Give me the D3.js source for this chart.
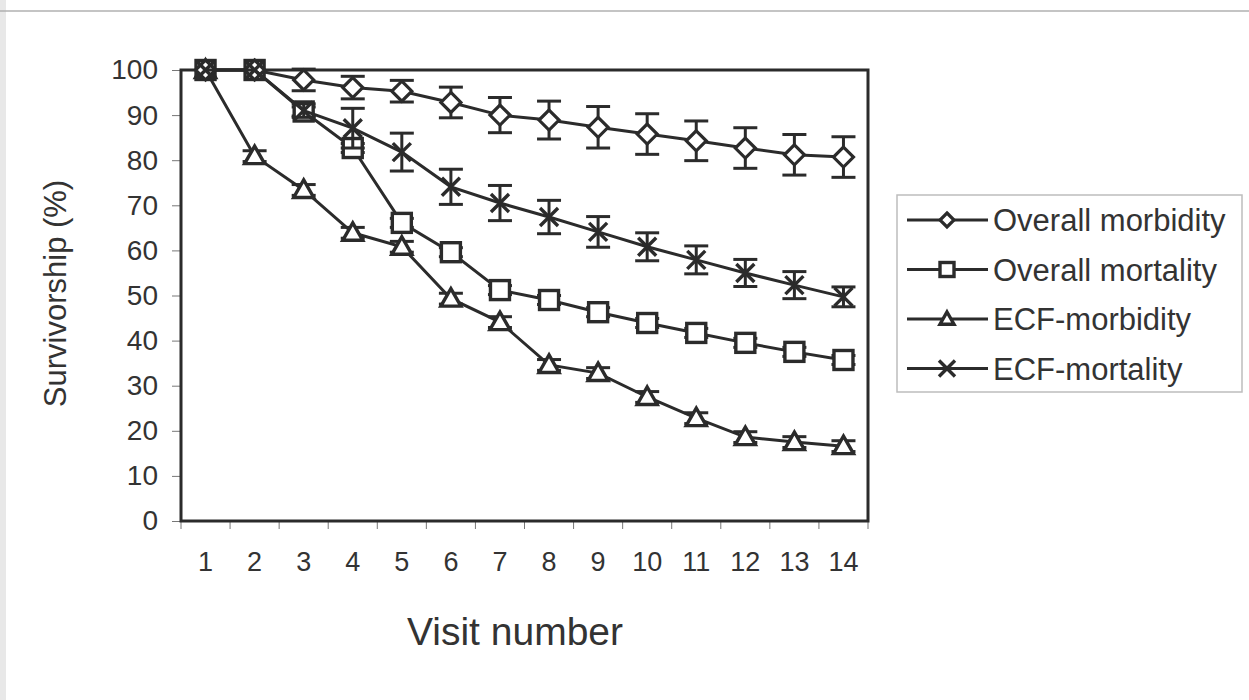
<!DOCTYPE html>
<html>
<head>
<meta charset="utf-8">
<script src="https://cdn.jsdelivr.net/npm/d3@7"></script>
<style>
  body { margin: 0; background: #fff; }
  svg { font-family: "Liberation Sans", Arial, sans-serif; }
</style>
</head>
<body>
<script>
// Chart data
const visits = ["1","2","3","4","5","6","7","8","9","10","11","12","13","14"];
const yTicks = [0,10,20,30,40,50,60,70,80,90,100];
const seriesNames = ["Overall morbidity","Overall mortality","ECF-morbidity","ECF-mortality"];
const seriesSymbols = ["diamond","square","triangle","cross"];

const overallMorbidity    = [100,100,97.8,96.1,95.3,92.8,90.0,88.9,87.3,85.8,84.3,82.7,81.2,80.7];
const overallMorbidityErr = [0,0,2.4,2.5,2.4,3.4,3.9,4.2,4.6,4.5,4.4,4.5,4.5,4.5];
const overallMortality    = [100,100,90.8,82.7,66.1,59.6,51.2,49.0,46.3,43.9,41.7,39.5,37.5,35.7];
const overallMortalityErr = [0,0,1,1,1,1,1,1,1,1,1,1,1,1];
const ecfMorbidity        = [100,80.9,73.4,63.9,60.8,49.3,44.1,34.6,32.8,27.5,22.8,18.6,17.5,16.6];
const ecfMorbidityErr     = [0,1.2,1.2,1.2,1.2,1.2,1.2,1.2,1.2,1.2,1.2,1.2,1.2,1.2];
const ecfMortality        = [100,100,91,87.1,81.8,74.1,70.5,67.4,64.1,60.8,57.9,55,52.3,49.7];
const ecfMortalityErr     = [0,0,1.5,4.4,4.2,3.9,3.9,3.7,3.4,3.1,3.1,3,3,2.2];

const values = [overallMorbidity, overallMortality, ecfMorbidity, ecfMortality];
const errors = [overallMorbidityErr, overallMortalityErr, ecfMorbidityErr, ecfMortalityErr];

const width = 1249, height = 700;
const ink = "#2b2b2b";
const textCol = "#333";
const plot = {left: 181, right: 868, top: 70, bottom: 521};

const svg = d3.select("body").append("svg")
    .attr("width", width)
    .attr("height", height);

// scan artefacts: faint top rule and grey left strip
svg.append("rect").attr("x", 0).attr("y", 0).attr("width", 6).attr("height", height).attr("fill", "#e8e8e8");
svg.append("line").attr("x1", 0).attr("x2", width).attr("y1", 11).attr("y2", 11)
    .attr("stroke", "#b0b0b0").attr("stroke-width", 1.5);

// Scales
const x = d3.scaleBand().domain(visits).range([plot.left, plot.right]);
const y = d3.scaleLinear().domain([0, 100]).range([plot.bottom, plot.top]);
const cx = (i) => x(visits[i]) + x.bandwidth() / 2;

// Axes
const yAxis = svg.append("g")
    .attr("transform", `translate(${plot.left},0)`)
    .call(d3.axisLeft(y).tickValues(yTicks).tickSize(9).tickPadding(14));
yAxis.select(".domain").remove();
yAxis.selectAll("line").attr("stroke", "#777").attr("stroke-width", 1);
yAxis.selectAll("text").attr("font-size", 28).attr("fill", textCol)
    .style("font-family", "Liberation Sans, Arial, sans-serif");

const xAxis = svg.append("g")
    .attr("transform", `translate(0,${plot.bottom})`)
    .call(d3.axisBottom(x).tickSize(0).tickPadding(31));
xAxis.select(".domain").remove();
xAxis.selectAll("text").attr("font-size", 27).attr("fill", textCol)
    .style("font-family", "Liberation Sans, Arial, sans-serif");
// tick marks at category boundaries
svg.append("g").selectAll("line")
    .data(visits.concat(["end"]))
    .join("line")
    .attr("x1", (d, i) => plot.left + i * x.bandwidth())
    .attr("x2", (d, i) => plot.left + i * x.bandwidth())
    .attr("y1", plot.bottom).attr("y2", plot.bottom + 8)
    .attr("stroke", "#777").attr("stroke-width", 1);

// Plot frame
svg.append("rect")
    .attr("x", plot.left).attr("y", plot.top)
    .attr("width", plot.right - plot.left).attr("height", plot.bottom - plot.top)
    .attr("fill", "none").attr("stroke", ink).attr("stroke-width", 3);

// Axis titles
svg.append("text")
    .attr("transform", `translate(66,${(plot.top + plot.bottom) / 2 - 2}) rotate(-90)`)
    .attr("text-anchor", "middle")
    .attr("font-size", 31).attr("fill", textCol)
    .text("Survivorship (%)");
svg.append("text")
    .attr("x", 515).attr("y", 645)
    .attr("text-anchor", "middle")
    .attr("font-size", 39).attr("fill", textCol)
    .text("Visit number");

// Marker drawing
function drawMarker(g, kind, s) {
    if (kind === "diamond") {
        g.append("path").attr("d", `M0,${-s}L${s},0L0,${s}L${-s},0Z`)
            .attr("fill", "#fff").attr("stroke", ink).attr("stroke-width", 3.2);
    } else if (kind === "square") {
        g.append("rect").attr("x", -s).attr("y", -s).attr("width", 2 * s).attr("height", 2 * s)
            .attr("fill", "#fff").attr("stroke", ink).attr("stroke-width", 3.4);
    } else if (kind === "triangle") {
        g.append("path").attr("d", `M0,${-s}L${s},${s * 0.75}L${-s},${s * 0.75}Z`)
            .attr("fill", "#fff").attr("stroke", ink).attr("stroke-width", 3.4);
    } else {
        g.append("path").attr("d", `M${-s},${-s}L${s},${s}M${s},${-s}L${-s},${s}`)
            .attr("stroke", ink).attr("stroke-width", 3.4);
    }
}

const markerSize = {diamond: 10, square: 9.5, triangle: 10, cross: 9};
const line = d3.line().x((d, i) => cx(i)).y(d => y(d));

// draw series (back to front)
[1, 2, 0, 3].forEach(si => {
    const g = svg.append("g");
    g.append("path")
        .datum(values[si])
        .attr("fill", "none").attr("stroke", ink).attr("stroke-width", 3)
        .attr("d", line);
    // error bars
    values[si].forEach((v, i) => {
        const e = errors[si][i];
        if (e <= 0) return;
        const eg = g.append("g").attr("stroke", ink).attr("stroke-width", 3);
        eg.append("line").attr("x1", cx(i)).attr("x2", cx(i)).attr("y1", y(v - e)).attr("y2", y(v + e));
        [v - e, v + e].forEach(t => eg.append("line")
            .attr("x1", cx(i) - 12).attr("x2", cx(i) + 12).attr("y1", y(t)).attr("y2", y(t)));
    });
    values[si].forEach((v, i) => {
        const mg = g.append("g").attr("transform", `translate(${cx(i)},${y(v)})`);
        drawMarker(mg, seriesSymbols[si], markerSize[seriesSymbols[si]]);
    });
});

// Legend
const legend = svg.append("g").attr("transform", "translate(897,195)");
legend.append("rect").attr("width", 345).attr("height", 197)
    .attr("fill", "#fff").attr("stroke", "#bdbdbd").attr("stroke-width", 1.5);
seriesNames.forEach((name, i) => {
    const ly = 25 + i * 49.5;
    const lg = legend.append("g").attr("transform", `translate(0,${ly})`);
    lg.append("line").attr("x1", 10).attr("x2", 91).attr("y1", 0).attr("y2", 0)
        .attr("stroke", ink).attr("stroke-width", 3);
    const mg = lg.append("g").attr("transform", "translate(50,0)");
    drawMarker(mg, seriesSymbols[i], seriesSymbols[i] === "cross" ? 8 : 7);
    lg.append("text").attr("x", 96).attr("y", 11)
        .attr("font-size", 31).attr("fill", textCol).text(name);
});
</script>
</body>
</html>
